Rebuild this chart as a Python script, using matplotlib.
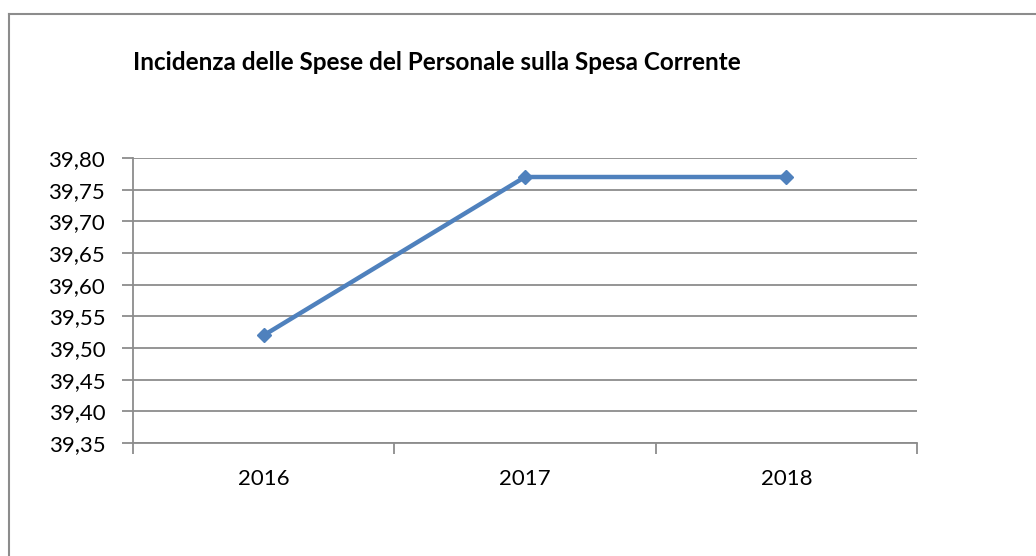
import matplotlib.pyplot as plt
import matplotlib.lines as mlines
import numpy as np

years = ['2016', '2017', '2018']
values = [39.52, 39.77, 39.77]
y_ticks = [39.35, 39.40, 39.45, 39.50, 39.55, 39.60, 39.65, 39.70, 39.75, 39.80]

plt.rcParams['font.family'] = ['Lato', 'DejaVu Sans']

fig = plt.figure(figsize=(10.36, 5.56), dpi=100)
ax = fig.add_axes([133 / 1036, 1 - 443 / 556, 784 / 1036, 285 / 556])

x = np.arange(len(years))
ax.plot(x, values, color='#4F81BD', lw=3.2, marker='D', markersize=7.5,
        solid_capstyle='butt', zorder=3)

ax.set_ylim(39.35, 39.80)
ax.set_yticks(y_ticks)
ax.set_yticklabels([f'{v:.2f}'.replace('.', ',') for v in y_ticks])
ax.set_xlim(-0.5, len(years) - 0.5)
ax.set_xticks(np.arange(-0.5, len(years), 1.0))
ax.set_xticklabels([])
for i, yr in enumerate(years):
    ax.text(i, -0.09, yr, transform=ax.get_xaxis_transform(),
            ha='center', va='top', fontsize=16)

ax.yaxis.grid(True, color='#8C8C8C', lw=1.3)
ax.set_axisbelow(True)
for s in ['top', 'right']:
    ax.spines[s].set_visible(False)
for s in ['left', 'bottom']:
    ax.spines[s].set_color('#8C8C8C')
    ax.spines[s].set_linewidth(1.3)
ax.tick_params(axis='both', colors='#8C8C8C', width=1.3, length=8,
               labelcolor='black', labelsize=16)
ax.tick_params(axis='y', pad=12)

fig.text(133 / 1036, 1 - 62 / 556, 'Incidenza delle Spese del Personale sulla Spesa Corrente',
         fontsize=17.5, fontweight='bold', ha='left', va='center')

# outer chart border (only left and top visible in the crop)
fig.add_artist(mlines.Line2D([9 / 1036, 9 / 1036], [0, 1 - 14 / 556],
                             transform=fig.transFigure, color='#8C8C8C', lw=1.5))
fig.add_artist(mlines.Line2D([9 / 1036, 1], [1 - 14 / 556, 1 - 14 / 556],
                             transform=fig.transFigure, color='#8C8C8C', lw=1.5))

fig.savefig('out.png', dpi=100)
